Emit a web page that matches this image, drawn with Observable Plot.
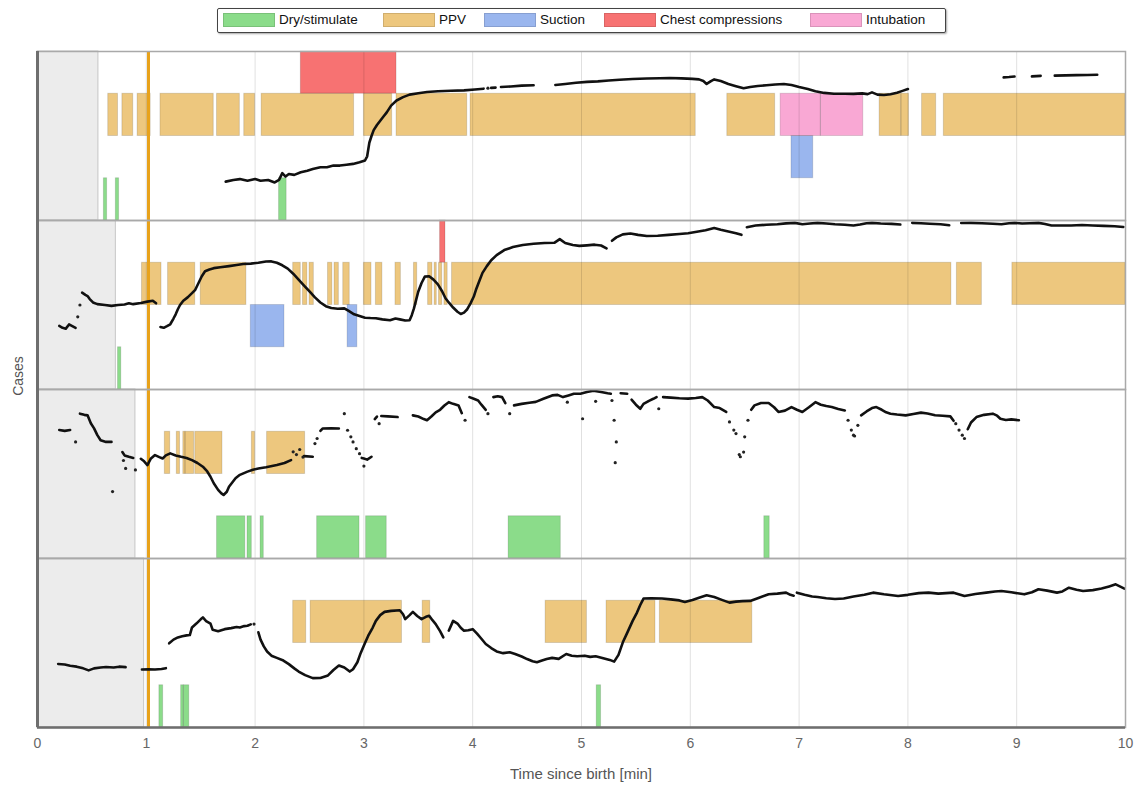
<!DOCTYPE html>
<html>
<head>
<meta charset="utf-8">
<script src="https://cdn.jsdelivr.net/npm/d3@7"></script>
<script src="https://cdn.jsdelivr.net/npm/@observablehq/plot@0.6"></script>
<style>
  body { margin: 0; background: #fff; font-family: "Liberation Sans", Arial, sans-serif; }
  #wrap { position: relative; width: 1136px; height: 786px; overflow: hidden; background: #fff; }
  #legend { position: absolute; left: 217px; top: 8px; width: 729px; height: 25px; box-sizing: border-box;
            border: 1.5px solid #444; border-radius: 2px; box-shadow: 1px 1px 2px rgba(0,0,0,0.35); background: #fff; }
  .item { position: absolute; top: 3px; display: flex; align-items: center; font-size: 13.5px; color: #111; white-space: nowrap; }
  .sw { width: 52px; height: 14px; margin-right: 4px; box-sizing: border-box; border: 1px solid rgba(0,0,0,0.12); }
  #chart { position: absolute; left: 0; top: 40px; }
  #ylab { position: absolute; left: 18px; top: 376px; transform: translate(-50%, -50%) rotate(-90deg); font-size: 14px; color: #555; }
  #xlab { position: absolute; left: 581px; top: 773px; transform: translate(-50%, -50%); font-size: 15px; color: #555; white-space: nowrap; }
</style>
</head>
<body>
<div id="wrap">
  <div id="legend"></div>
  <div id="chart"></div>
  <div id="ylab">Cases</div>
  <div id="xlab">Time since birth [min]</div>
</div>
<script>
// ---------------- DATA ----------------
const cases = [1, 2, 3, 4];
const interventionTypes = ["Dry/stimulate", "PPV", "Suction", "Chest compressions", "Intubation"];
const interventionColors = ["#8bdc8a", "#edc77e", "#9ab6ee", "#f77272", "#f9a8d4"];

// grey "before monitoring" period per case (min)
const shadeEnd = [0.56, 0.72, 0.90, 0.98];
// vertical marker (min)
const markerTime = 1.02;

// intervals: [case, start, end] in minutes
const dryStimulate = [
  [1, 0.61, 0.64], [1, 0.72, 0.75], [1, 2.22, 2.29],
  [2, 0.74, 0.77],
  [3, 1.65, 1.91], [3, 1.93, 1.97], [3, 2.05, 2.08], [3, 2.57, 2.96], [3, 3.02, 3.21], [3, 4.33, 4.81], [3, 6.68, 6.73],
  [4, 1.12, 1.155], [4, 1.32, 1.345], [4, 1.345, 1.395], [4, 5.14, 5.18]
];
const ppv = [
  [1, 0.65, 0.74], [1, 0.78, 0.88], [1, 0.92, 1.04], [1, 1.13, 1.62], [1, 1.65, 1.86], [1, 1.90, 2.00],
  [1, 2.06, 2.91], [1, 3.00, 3.26], [1, 3.30, 3.95], [1, 3.98, 6.05], [1, 6.34, 6.78], [1, 7.74, 7.94],
  [1, 7.94, 8.01], [1, 8.13, 8.26], [1, 8.33, 10],
  [2, 0.96, 1.14], [2, 1.20, 1.45], [2, 1.50, 1.92], [2, 2.35, 2.42], [2, 2.44, 2.48], [2, 2.50, 2.54],
  [2, 2.67, 2.71], [2, 2.73, 2.77], [2, 2.81, 2.87], [2, 3.00, 3.07], [2, 3.11, 3.17], [2, 3.29, 3.34],
  [2, 3.46, 3.49], [2, 3.59, 3.63], [2, 3.65, 3.67], [2, 3.69, 3.72], [2, 3.74, 3.77], [2, 3.81, 8.40],
  [2, 8.45, 8.68], [2, 8.96, 10],
  [3, 1.17, 1.22], [3, 1.28, 1.31], [3, 1.34, 1.36], [3, 1.36, 1.44], [3, 1.45, 1.70], [3, 1.97, 2.00], [3, 2.11, 2.46],
  [4, 2.35, 2.47], [4, 2.51, 3.35], [4, 3.54, 3.61], [4, 4.67, 5.05], [4, 5.23, 5.68], [4, 5.72, 6.57]
];
const suction = [[1, 6.93, 7.13], [2, 1.96, 2.27], [2, 2.85, 2.94]];
const chestCompressions = [[1, 2.42, 3.30], [2, 3.70, 3.75]];
const intubation = [[1, 6.83, 7.20], [1, 7.20, 7.59]];

// monitoring trace (relative units, 0-100 of the case row), segments of [min, value]
const trace1 = [
  [[1.73,23],[1.80,24],[1.86,24.5],[1.93,23.5],[2.00,24.5],[2.05,23.5],[2.12,24],[2.18,22.5],[2.22,24],[2.25,28],[2.28,26],[2.31,27.5],[2.36,27],[2.42,28.5],[2.48,29.5],[2.53,30.5],[2.60,31.5],[2.66,31.5],[2.72,32.5],[2.78,32.5],[2.84,33],[2.90,33.5],[2.96,34.5],[3.01,35.5],[3.03,38],[3.05,46],[3.07,50],[3.09,53.5],[3.12,56.5],[3.15,59],[3.18,61.5],[3.21,64],[3.25,68],[3.30,71],[3.36,73],[3.42,74.5],[3.50,75.3],[3.58,76],[3.68,76.5],[3.80,76.8],[3.92,77],[4.02,77.5],[4.10,78]],
  [[4.17,78.5],[4.21,78.6]],
  [[4.26,79],[4.35,79.3],[4.45,79.8],[4.56,80]],
  [[4.76,80.2],[4.85,80.8],[4.95,81.5],[5.05,82],[5.15,82.3],[5.25,82.8],[5.35,83.3],[5.47,83.7],[5.60,84],[5.72,84.2],[5.81,84.3],[5.92,84.1],[6.02,83.8],[6.08,83.5],[6.12,82.5],[6.15,80.8],[6.19,82.5],[6.22,83.5],[6.28,82.5],[6.35,80.8],[6.42,79.5],[6.49,78.3],[6.55,79],[6.62,79.6],[6.70,80],[6.78,80.5],[6.86,80.8],[6.93,80.2],[7.00,79],[7.08,77.8],[7.15,76.5],[7.23,75.5],[7.32,75],[7.42,75],[7.50,74.9],[7.58,75.2],[7.63,74.8],[7.67,75.8],[7.72,74.5],[7.78,74.3],[7.84,74.7],[7.90,75.6],[7.95,76.7],[8.00,77.8]],
  [[8.88,84.7],[8.93,84.9],[8.98,85.2]],
  [[9.14,85.3],[9.22,85.6]],
  [[9.35,85.7],[9.45,85.9],[9.55,86],[9.65,86.1],[9.74,86.2]]
];
const trace2 = [
  [[0.20,37.6],[0.23,36.5],[0.26,36],[0.29,38.5],[0.32,37.5],[0.35,36.5]],
  [[0.41,57.3],[0.44,56],[0.46,55.3],[0.48,53.5],[0.51,51.5],[0.55,50.5],[0.62,50],[0.68,49.5],[0.74,50],[0.80,50.3],[0.84,51],[0.88,50.5],[0.95,51.2],[1.01,52],[1.06,52.5],[1.09,51]],
  [[1.13,37],[1.16,36.5],[1.19,37.5],[1.22,38.6],[1.25,42],[1.27,44.5],[1.29,47.5],[1.31,50],[1.34,52.5],[1.38,54.5],[1.42,57],[1.45,59],[1.48,63],[1.51,67],[1.54,70],[1.58,71],[1.62,71.8],[1.68,72.3],[1.76,73],[1.83,73.7],[1.89,74.3],[1.96,74.5],[2.03,75],[2.10,75.7],[2.15,75.8],[2.20,75],[2.25,73.5],[2.30,71.5],[2.35,68.5],[2.40,65],[2.45,61.5],[2.50,58],[2.55,54.5],[2.60,51.5],[2.65,49.3],[2.70,48.2],[2.76,47.8],[2.82,48],[2.86,46.5],[2.91,44.5],[2.96,43.5],[3.01,42.5],[3.06,42.3],[3.11,42.2],[3.17,41.5],[3.24,41],[3.29,42],[3.33,41.5],[3.38,40.8],[3.42,41],[3.44,44],[3.46,48],[3.48,53],[3.50,58],[3.53,63],[3.56,66.8],[3.60,67],[3.64,65],[3.68,62.2],[3.72,58],[3.75,54],[3.78,51.5],[3.82,48.5],[3.86,46],[3.89,44.7],[3.92,45.5],[3.95,47.5],[3.98,51],[4.01,55],[4.03,59],[4.06,64],[4.09,69],[4.13,73],[4.17,76.5],[4.22,79.5],[4.29,82.5],[4.37,84.3],[4.46,85.5],[4.56,86.2],[4.66,86.7],[4.75,86.8],[4.80,89],[4.85,86.7],[4.92,85.5],[4.98,85],[5.05,85.3],[5.12,85.7],[5.18,85.2],[5.23,83.5]],
  [[5.28,88],[5.32,90],[5.38,91.8],[5.45,92.3],[5.52,91.5],[5.60,90.8],[5.70,91],[5.80,91.5],[5.90,92],[5.98,92.5],[6.06,93.3],[6.14,94.2],[6.22,95.5],[6.28,94.5],[6.35,93.5],[6.42,92.5],[6.47,91.5]],
  [[6.52,96],[6.60,97],[6.70,97.5],[6.80,97.8],[6.88,98.3],[6.96,98.6],[7.03,97.8],[7.10,98.2],[7.17,98.6],[7.25,98.2],[7.33,97.8],[7.42,97.5],[7.50,97],[7.56,97.6],[7.62,98.4],[7.67,98.6],[7.75,98.2],[7.85,98],[7.93,97.6]],
  [[8.04,98.6],[8.12,98.4],[8.20,98.1],[8.30,97.8],[8.38,97.2]],
  [[8.49,98.5],[8.58,98.6],[8.68,98.4],[8.78,98.1],[8.86,97.8],[8.93,98.4],[8.98,98.6],[9.05,98.2],[9.12,98.4],[9.20,98.6],[9.26,97.9],[9.32,97],[9.40,97],[9.50,97],[9.60,97.3],[9.70,97],[9.80,96.8],[9.90,96.6],[9.98,96.2]]
];
const trace3 = [
  [[0.20,76],[0.25,75.5],[0.30,76]],
  [[0.39,85.7],[0.43,85],[0.46,84.7],[0.49,80],[0.52,77],[0.55,73],[0.58,70],[0.63,69],[0.68,69]],
  [[0.78,63],[0.80,61],[0.84,60.2],[0.88,59.5]],
  [[0.95,59],[0.98,57.5],[1.01,55.3],[1.04,59],[1.08,61.2],[1.12,60],[1.15,59.2],[1.18,61],[1.22,62.2],[1.27,61],[1.32,60.2],[1.37,59.5],[1.42,58.2],[1.47,56.5],[1.52,54.3],[1.56,51.5],[1.59,48.4],[1.62,44.5],[1.66,40.6],[1.69,38.5],[1.71,37.6],[1.74,39.5],[1.76,42.5],[1.79,45],[1.82,47.5],[1.86,49.5],[1.93,51.4],[1.98,52.5],[2.03,53.3],[2.10,54],[2.20,55.3],[2.27,56.5],[2.33,58.2]],
  [[2.45,60.6],[2.53,60.2]],
  [[2.60,75.5],[2.62,76.9],[2.70,77],[2.77,76.9]],
  [[2.98,59.5],[3.00,59.2],[3.03,58.5],[3.07,60.2]],
  [[3.10,82.5],[3.12,84]],
  [[3.16,84.3],[3.22,84.1],[3.31,83.7]],
  [[3.45,84.7],[3.50,84],[3.55,82.5],[3.58,81.8],[3.62,84],[3.66,86.5],[3.70,88],[3.74,90.5],[3.78,92.5],[3.82,91.5],[3.87,90.6],[3.90,86]],
  [[3.97,95.5],[4.01,94.5],[4.05,93.5],[4.08,91],[4.12,88]],
  [[4.19,95.5],[4.23,96],[4.27,95.5],[4.30,92]],
  [[4.38,90.6],[4.45,91.5],[4.52,92.2],[4.58,92.7],[4.65,94.5],[4.73,96.5],[4.78,96.8],[4.83,95.5],[4.88,96.5],[4.93,97.5],[4.99,97.5],[5.05,98.5],[5.11,99.3],[5.18,98.5],[5.24,97.8],[5.27,97.5]],
  [[5.36,97.8],[5.42,97.5]],
  [[5.46,94],[5.50,91],[5.54,88.6],[5.57,91.5],[5.62,93.3],[5.66,94.5],[5.69,95.5]],
  [[5.75,95.5],[5.82,95.2],[5.90,94.8],[5.98,94.6],[6.05,95],[6.11,95.5],[6.16,93.5],[6.22,89.6],[6.27,89],[6.33,86.7]],
  [[6.56,88],[6.59,90.6],[6.65,92],[6.72,92],[6.77,89.5],[6.81,86.7],[6.87,87.5],[6.93,89.6],[6.98,88],[7.03,86.7],[7.09,89.5],[7.15,92.5],[7.20,91],[7.25,90.2],[7.30,89.6],[7.36,88.5],[7.42,87.6]],
  [[7.57,84.7],[7.62,87],[7.67,89],[7.71,89.6],[7.76,88],[7.80,86.5],[7.84,85.7],[7.90,85.2],[7.98,84.7],[8.05,85.5],[8.12,86.3],[8.18,85.8],[8.25,84.8],[8.32,84.5],[8.39,84.1],[8.42,81.5]],
  [[8.55,76.5],[8.58,80.5],[8.63,83.7],[8.70,85],[8.78,85.7],[8.82,84.5],[8.85,82.7],[8.90,82],[8.95,82.3],[9.02,81.8]]
];
const trace4 = [
  [[0.19,37.6],[0.25,37.3],[0.30,36.5],[0.36,36],[0.42,35],[0.47,33.8],[0.52,35],[0.58,35.5],[0.63,35.8],[0.70,35.5],[0.75,36],[0.81,35.7]],
  [[0.96,34.3],[1.02,34.5],[1.08,34.3],[1.14,34.6],[1.18,35.1]],
  [[1.21,49.8],[1.25,52],[1.29,53.3],[1.33,54],[1.37,54.5],[1.40,54.7],[1.42,59.2],[1.46,61.5],[1.50,64],[1.52,65.1],[1.55,63],[1.59,61.5],[1.61,57.8],[1.66,57],[1.72,58.2],[1.78,58.8],[1.83,59.5],[1.86,59.2],[1.90,60],[1.93,60.2],[1.96,61]],
  [[2.03,56.3],[2.05,52],[2.08,48],[2.11,45],[2.15,42.5],[2.20,41.2],[2.26,39.6],[2.31,37.5],[2.36,35],[2.40,33.1],[2.46,31],[2.53,29.2],[2.60,29.3],[2.67,30.8],[2.72,34],[2.77,36.7],[2.82,35.5],[2.87,33.1],[2.90,34.5],[2.94,38.6],[2.97,44],[3.01,50],[3.04,54.3],[3.08,59],[3.11,63.1],[3.15,66.5],[3.19,68.4],[3.25,69],[3.33,69.4],[3.36,67],[3.38,64.1],[3.42,66.5],[3.45,68.4],[3.49,66],[3.53,64.1],[3.57,65.5],[3.60,66.1],[3.63,63.5],[3.66,61.2],[3.70,57],[3.73,53.3]],
  [[3.78,57.3],[3.82,63.1],[3.86,61.5],[3.89,59],[3.92,57.3],[3.96,57.5],[4.00,58.2],[4.04,55.5],[4.08,52.5],[4.12,49.4],[4.17,47],[4.22,45],[4.28,44],[4.34,44.5],[4.39,43.5],[4.45,42],[4.50,40.5],[4.55,39.2],[4.59,38.6],[4.63,39.5],[4.68,40.5],[4.73,41.2],[4.79,40.6],[4.86,43.5],[4.91,42.5],[4.96,42.2],[5.03,42.5],[5.08,41.8],[5.13,42.2],[5.20,41],[5.26,40],[5.30,39],[5.34,43],[5.38,50.4],[5.42,56],[5.47,63.1],[5.51,68],[5.54,72.5],[5.57,76.3],[5.64,76.5],[5.74,76.3],[5.82,75.8],[5.90,75.2],[5.95,74.3],[6.02,75.5],[6.08,76.8],[6.15,78.2],[6.22,77.2],[6.29,75.5],[6.36,73.9],[6.42,74.5],[6.48,74.8],[6.55,74.9],[6.62,76.5],[6.72,78.8],[6.80,79.2],[6.88,79.8],[6.92,78.5],[6.95,78]],
  [[6.98,79.8],[7.05,78.5],[7.12,77.5],[7.17,77.2],[7.25,76.5],[7.33,76],[7.41,76.3],[7.50,77.5],[7.60,78.5],[7.68,79.8],[7.78,78.8],[7.91,77.8],[8.00,78.5],[8.10,79.5],[8.19,79.8],[8.28,79.2],[8.35,79.5],[8.42,79.8],[8.52,77.8],[8.62,79],[8.72,79.8],[8.80,80.5],[8.86,80.8],[8.95,80],[9.07,78.8],[9.14,80],[9.20,81.8],[9.28,81],[9.37,79.8],[9.42,80.5],[9.48,82.7],[9.55,81.5],[9.61,80.8],[9.70,81.3],[9.78,82.2],[9.85,83.5],[9.91,84.7],[9.99,82.2]]
];
// isolated samples: [case, min, value]
const isolatedSamples = [
  [1,4.14,78.3],
  [2,0.37,43],[2,0.39,50],
  [3,0.35,69],[3,0.69,39.6],[3,0.79,58],[3,0.81,53.3],[3,0.90,52.4],[3,2.35,63.1],[3,2.38,61.5],[3,2.41,64.5],[3,2.44,60],
  [3,2.55,68],[3,2.57,71],[3,2.82,85.7],[3,2.85,75.9],[3,2.88,72],[3,2.90,69],[3,2.93,65],[3,2.96,62],[3,3.00,54.7],
  [3,3.14,79.8],[3,3.93,81.8],[3,4.14,85.7],[3,4.34,85.7],[3,4.87,92.5],[3,5.01,82.7],[3,5.13,93],[3,5.28,93.5],
  [3,5.30,81.8],[3,5.32,69],[3,5.31,56.7],[3,5.71,88.6],[3,6.36,80.8],[3,6.40,76],[3,6.42,73.9],[3,6.45,61.5],
  [3,6.46,60.2],[3,6.49,63],[3,6.50,72],[3,6.53,81.8],[3,7.45,81.8],[3,7.48,76],[3,7.50,73],[3,7.51,72.5],[3,7.54,78.8],
  [3,8.44,79.8],[3,8.47,76],[3,8.50,73],[3,8.52,71],
  [4,1.99,61.2]
];

// ---------------- BUILD ----------------
const lane = {"Dry/stimulate": 0, "Suction": 1, "PPV": 2, "Intubation": 2, "Chest compressions": 3};
const groups = [
  ["Dry/stimulate", dryStimulate], ["PPV", ppv], ["Suction", suction],
  ["Chest compressions", chestCompressions], ["Intubation", intubation]
];
const bars = groups.flatMap(([type, arr]) => arr.map(([c, s, e]) => ({case: c, start: s, end: e, type})));
const shade = cases.map((c, i) => ({case: c, end: shadeEnd[i]}));
const traceSets = [trace1, trace2, trace3, trace4];
const trace = traceSets.flatMap((segs, ci) =>
  segs.flatMap((seg, si) => seg.map(([t, v]) => ({case: cases[ci], seg: `${ci}-${si}`, t, v}))));
const dots = isolatedSamples.map(([c, t, v]) => ({case: c, t, v}));

const chart = Plot.plot({
  width: 1136,
  height: 746,
  marginLeft: 37,
  marginRight: 11,
  marginTop: 10,
  marginBottom: 59,
  style: {fontFamily: "'Liberation Sans', Arial, sans-serif", fontSize: "14px", color: "#666", background: "transparent"},
  x: {domain: [0, 10]},
  y: {domain: [0, 100], axis: null},
  fy: {domain: cases, padding: 0, axis: null},
  color: {domain: interventionTypes, range: interventionColors},
  marks: [
    Plot.rect(shade, {x1: () => 0, x2: "end", y1: () => 0, y2: () => 100, fy: "case", fill: "#ececec", stroke: "#c6c6c6", strokeWidth: 1}),
    Plot.rect(bars, {x1: "start", x2: "end", y1: d => lane[d.type] * 25, y2: d => lane[d.type] * 25 + 25, fy: "case", fill: "type"}),
    Plot.rect(bars, {x1: "start", x2: "end", y1: d => lane[d.type] * 25, y2: d => lane[d.type] * 25 + 25, fy: "case", fill: "none", stroke: "#000", strokeOpacity: 0.13, strokeWidth: 1}),
    Plot.ruleX(d3.range(1, 10), {stroke: "#000", strokeOpacity: 0.12, strokeWidth: 1}),
    Plot.ruleX([markerTime], {stroke: "#e8a21a", strokeWidth: 3}),
    Plot.line(trace, {x: "t", y: "v", z: "seg", fy: "case", stroke: "#111", strokeWidth: 2.6, strokeLinejoin: "round", strokeLinecap: "round"}),
    Plot.dot(dots, {x: "t", y: "v", fy: "case", r: 1.6, fill: "#222", stroke: null}),
    Plot.frame({stroke: "#a9a9a9", strokeWidth: 1.5}),
    Plot.ruleX([0], {stroke: "#6e6e6e", strokeWidth: 3}),
    Plot.ruleY([{case: 4, y: 0}], {y: "y", fy: "case", stroke: "#6e6e6e", strokeWidth: 2.5}),
    Plot.axisX(d3.range(0, 11), {tickSize: 0, tickPadding: 11, fontSize: 14, fill: "#666", label: null, tickFormat: d => d})
  ]
});
document.getElementById("chart").appendChild(chart);

// legend
const legendLefts = [5, 165, 266, 386, 592];
const legend = document.getElementById("legend");
interventionTypes.forEach((t, i) => {
  const item = document.createElement("div");
  item.className = "item";
  item.style.left = legendLefts[i] + "px";
  const sw = document.createElement("span");
  sw.className = "sw";
  sw.style.background = interventionColors[i];
  const lab = document.createElement("span");
  lab.textContent = t;
  item.appendChild(sw);
  item.appendChild(lab);
  legend.appendChild(item);
});
</script>
</body>
</html>
